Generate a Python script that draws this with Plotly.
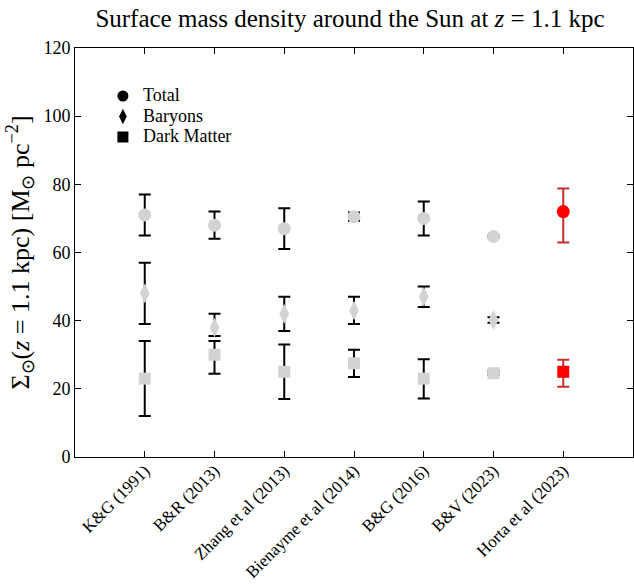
import plotly.graph_objects as go

studies = ["K&G (1991)", "B&R (2013)", "Zhang et al (2013)", "Bienayme et al (2014)",
           "B&G (2016)", "B&V (2023)", "Horta et al (2023)"]

total = [71, 68, 67, 70.5, 70, 64.7, 72]
total_up = [6, 4, 6, 1.2, 5, 0.3, 6.8]
total_dn = [6, 4, 6, 1.2, 5, 0.3, 9.1]

baryons = [48, 38, 42, 43, 47, 40.2]
baryons_up = [9, 4, 5, 4, 3, 0.8]
baryons_dn = [9, 2.5, 5, 4, 3, 0.8]

dm = [23, 30, 25, 27.5, 23, 24.6, 25]
dm_up = [11, 4, 8, 4, 5.7, 0.5, 3.5]
dm_dn = [11, 5.6, 8, 4, 5.8, 0.5, 4.4]

legend_names = ["Total", "Baryons", "Dark Matter"]

GRAY = "#d3d3d3"
RED = "#ff0000"
RED_ERR = "#c62d2d"
FONT = "Liberation Serif"

x_idx = list(range(len(studies)))
n_gray = len(studies) - 1

fig = go.Figure()

def add_series(xs, ys, up, dn, color, ecolor, symbol, size):
    fig.add_trace(go.Scatter(
        x=xs, y=ys, mode="markers", showlegend=False,
        marker=dict(color=color, symbol=symbol, size=size, line=dict(width=0)),
        error_y=dict(type="data", symmetric=False, array=up, arrayminus=dn,
                     color=ecolor, thickness=2, width=6),
    ))

# gray (literature) points
add_series(x_idx[:n_gray], total[:n_gray], total_up[:n_gray], total_dn[:n_gray],
           GRAY, "black", "circle", 13)
add_series(x_idx[:len(baryons)], baryons, baryons_up, baryons_dn,
           GRAY, "black", "diamond-tall", 14)
add_series(x_idx[:n_gray], dm[:n_gray], dm_up[:n_gray], dm_dn[:n_gray],
           GRAY, "black", "square", 12)

# red (this work)
add_series([x_idx[-1]], [total[-1]], [total_up[-1]], [total_dn[-1]],
           RED, RED_ERR, "circle", 13)
add_series([x_idx[-1]], [dm[-1]], [dm_up[-1]], [dm_dn[-1]],
           RED, RED_ERR, "square", 12)

# legend entries (black markers)
for name, sym in zip(legend_names, ["circle", "diamond-tall", "square"]):
    fig.add_trace(go.Scatter(
        x=[None], y=[None], mode="markers",
        name='<span style="font-size:18px">' + name + '</span>',
        marker=dict(color="black", symbol=sym, size=11),
    ))

fig.update_layout(
    width=634, height=584,
    margin=dict(l=75, r=1, t=48, b=127),
    paper_bgcolor="white", plot_bgcolor="white",
    font=dict(family=FONT, color="black", size=18),
    title=dict(
        text="Surface mass density around the Sun at <i>z</i> = 1.1 kpc",
        x=0.552, xanchor="center", y=0.968, yanchor="middle",
        font=dict(family=FONT, size=25, color="black"),
    ),
    legend=dict(
        x=0.05, y=0.92, xanchor="left", yanchor="top",
        bgcolor="rgba(0,0,0,0)", font=dict(family=FONT, size=13.5),
        itemwidth=30, tracegroupgap=0,
    ),
    xaxis=dict(
        range=[-1, 7], tickmode="array", tickvals=x_idx, ticktext=studies,
        tickangle=-45, ticks="inside", ticklen=6, tickwidth=1, tickcolor="black",
        showline=True, linecolor="black", linewidth=1, mirror="ticks",
        showgrid=False, zeroline=False, automargin=False,
        ticklabelstandoff=-4,
        tickfont=dict(family=FONT, size=17, color="black"),
    ),
    yaxis=dict(
        range=[0, 120], tickmode="array", tickvals=[0, 20, 40, 60, 80, 100, 120],
        ticks="inside", ticklen=6, tickwidth=1, tickcolor="black",
        showline=True, linecolor="black", linewidth=1, mirror="ticks",
        showgrid=False, zeroline=False, automargin=False,
        tickfont=dict(family=FONT, size=18, color="black"),
        title=dict(
            text="Σ<sub>⊙</sub>(<i>z</i> = 1.1 kpc) [M<sub>⊙</sub> pc<sup>−2</sup>]",
            font=dict(family=FONT, size=26, color="black"), standoff=6,
        ),
    ),
)

fig.write_html("out.html")
